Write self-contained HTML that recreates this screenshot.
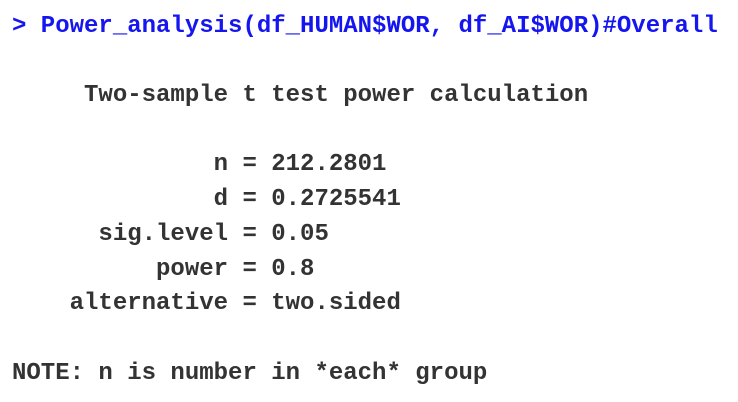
<!DOCTYPE html>
<html>
<head>
<meta charset="utf-8">
<style>
  html, body { margin: 0; padding: 0; background: #ffffff; }
  body { width: 738px; height: 402px; overflow: hidden; position: relative; }
  pre {
    position: absolute; left: 12px; top: 9.6px; margin: 0;
    font-family: "Liberation Mono", "DejaVu Sans Mono", monospace;
    font-weight: bold; font-size: 24px; line-height: 34.7px;
    color: #333333; white-space: pre;
  }
  .cmd { color: #1515f0; }
</style>
</head>
<body>
<pre><span class="cmd">&gt; Power_analysis(df_HUMAN$WOR, df_AI$WOR)#Overall</span>

<span>     Two-sample t test power calculation</span>

<span>              n = 212.2801</span>
<span>              d = 0.2725541</span>
<span>      sig.level = 0.05</span>
<span>          power = 0.8</span>
<span>    alternative = two.sided</span>

<span>NOTE: n is number in *each* group</span></pre>
</body>
</html>
